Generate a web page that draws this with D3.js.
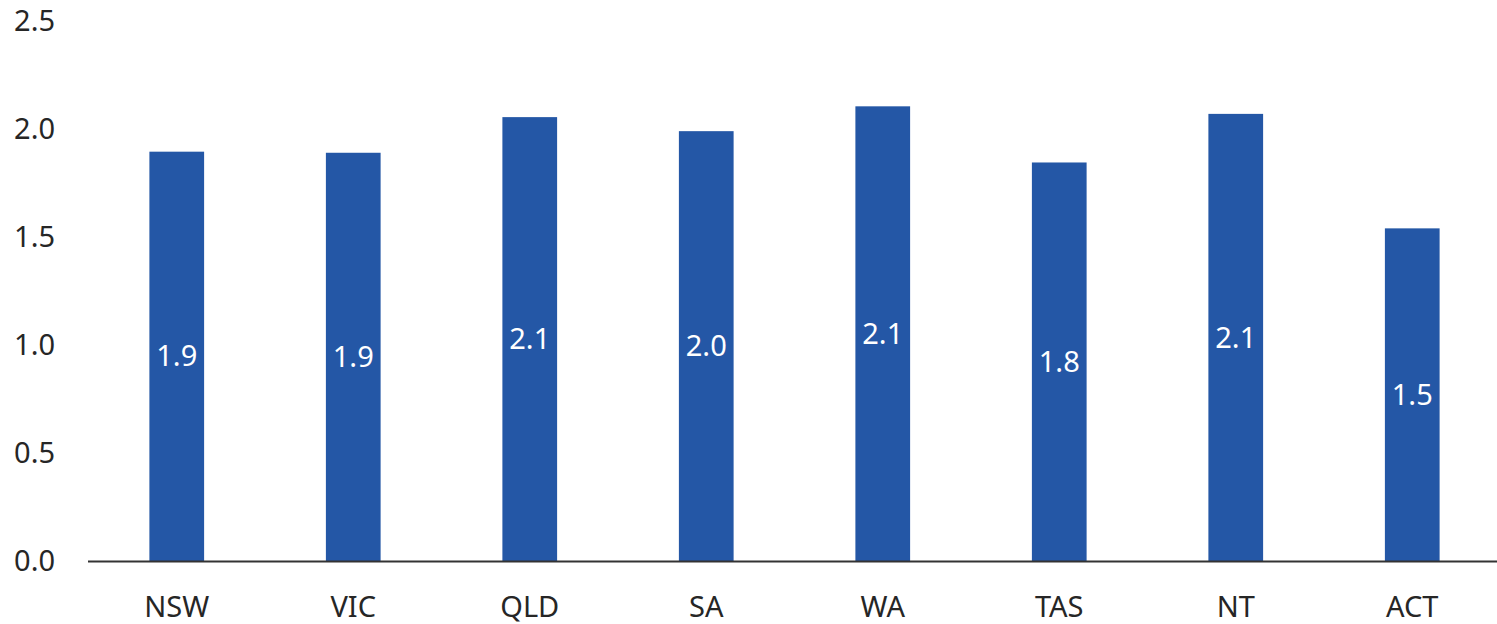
<!DOCTYPE html>
<html>
<head>
<meta charset="utf-8">
<script src="https://cdn.jsdelivr.net/npm/d3@7"></script>
<style>
	body { margin: 0; background: #fff; }
	text { font-family: 'Noto Sans', 'Open Sans', sans-serif; }
</style>
</head>
<body>
<div id="chart"></div>
<script>
var states = ['NSW', 'VIC', 'QLD', 'SA', 'WA', 'TAS', 'NT', 'ACT'];
var values = [1.895, 1.89, 2.055, 1.99, 2.105, 1.845, 2.07, 1.54];
var yTicks = [0, 0.5, 1.0, 1.5, 2.0, 2.5];

var width = 1497;
var height = 624;
var barColor = '#2457a6';
var textColor = '#262626';
var fontSize = '29px';

var svg = d3.select('#chart')
	.append('svg')
	.attr('width', width)
	.attr('height', height);

var xScale = d3.scaleBand()
	.domain(states)
	.range([88.5, 1500.5])
	.paddingInner(0.69)
	.paddingOuter(0.345);

var yScale = d3.scaleLinear()
	.domain([0, 2.5])
	.range([561, 21]);

// y tick labels, no axis line
svg.append('g')
	.selectAll('text')
	.data(yTicks)
	.enter()
	.append('text')
	.attr('x', 55)
	.attr('y', function(d) { return yScale(d); })
	.attr('dy', '0.35em')
	.attr('text-anchor', 'end')
	.style('font-size', fontSize)
	.style('fill', textColor)
	.text(function(d) { return d3.format('.1f')(d); });

// bars
svg.append('g')
	.selectAll('rect')
	.data(values)
	.enter()
	.append('rect')
	.attr('x', function(d, i) { return xScale(states[i]); })
	.attr('y', function(d) { return yScale(d); })
	.attr('width', xScale.bandwidth())
	.attr('height', function(d) { return yScale(0) - yScale(d); })
	.style('fill', barColor);

// value labels in the middle of each bar
svg.append('g')
	.selectAll('text')
	.data(values)
	.enter()
	.append('text')
	.attr('x', function(d, i) { return xScale(states[i]) + xScale.bandwidth() / 2; })
	.attr('y', function(d) { return (yScale(d) + yScale(0)) / 2; })
	.attr('dy', '0.35em')
	.attr('text-anchor', 'middle')
	.style('font-size', fontSize)
	.style('fill', '#fff')
	.text(function(d) { return d3.format('.1f')(d); });

// baseline
svg.append('line')
	.attr('x1', 88)
	.attr('x2', width)
	.attr('y1', yScale(0) + 0.5)
	.attr('y2', yScale(0) + 0.5)
	.style('stroke', '#333')
	.style('stroke-width', 2);

// category labels
var xAxis = svg.append('g')
	.attr('transform', 'translate(0,' + yScale(0) + ')')
	.call(d3.axisBottom(xScale).tickSize(0));
xAxis.select('.domain').remove();
xAxis.selectAll('text')
	.style('font-family', "'Noto Sans', 'Open Sans', sans-serif")
	.style('font-size', fontSize)
	.style('fill', textColor)
	.attr('dy', '0.35em')
	.attr('y', 46);
</script>
</body>
</html>
